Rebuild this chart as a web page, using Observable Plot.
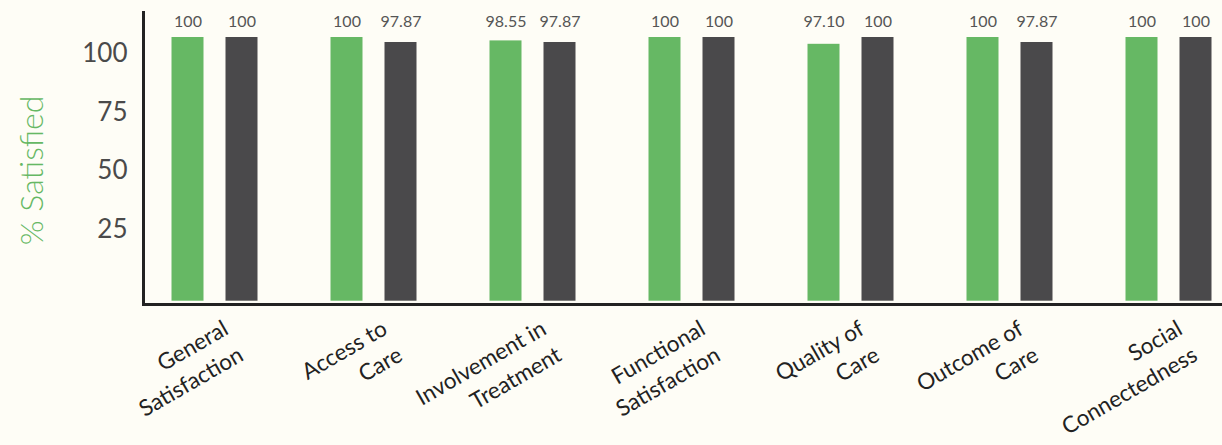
<!DOCTYPE html>
<html>
<head>
<meta charset="utf-8">
<script src="https://cdn.jsdelivr.net/npm/d3@7"></script>
<script src="https://cdn.jsdelivr.net/npm/@observablehq/plot@0.6"></script>
<style>
  html, body { margin: 0; padding: 0; background: #fefdf6; }
  #chart svg { display: block; background: #fefdf6; }
</style>
</head>
<body>
<div id="chart"></div>
<script>
const categories = ["General Satisfaction", "Access to Care", "Involvement in Treatment",
  "Functional Satisfaction", "Quality of Care", "Outcome of Care", "Social Connectedness"];
const tickLabels = ["General\nSatisfaction", "Access to\nCare", "Involvement in\nTreatment",
  "Functional\nSatisfaction", "Quality of\nCare", "Outcome of\nCare", "Social\nConnectedness"];
const greenValues = [100, 100, 98.55, 100, 97.10, 100, 100];
const darkValues  = [100, 97.87, 97.87, 100, 100, 97.87, 100];
const yTicks = [25, 50, 75, 100];
const yTitle = "% Satisfied";

const green = "#66b864", dark = "#4a494b";
const fmt = v => v === 100 ? "100" : v.toFixed(2);

const greenRows = categories.map((c, i) => ({category: c, value: greenValues[i]}));
const darkRows  = categories.map((c, i) => ({category: c, value: darkValues[i]}));
const labelRows = categories.map((c, i) => ({category: c, label: tickLabels[i]}));

const font = "Lato, 'Open Sans', sans-serif";

const chart = Plot.plot({
  width: 1222,
  height: 445,
  marginLeft: 143,
  marginRight: 0,
  marginTop: 12,
  marginBottom: 141,
  style: {background: "#fefdf6", fontFamily: font},
  x: {type: "band", domain: categories, range: [134.5, 1247.5], padding: 0, axis: null},
  y: {domain: [0, 100], range: [287.7, 53], axis: null},
  marks: [
    Plot.barY(greenRows, {x: "category", y: "value", fill: green,
      insetLeft: 36.5, insetRight: 90.5, insetTop: -16, insetBottom: -13}),
    Plot.barY(darkRows, {x: "category", y: "value", fill: dark,
      insetLeft: 90.5, insetRight: 36.5, insetTop: -16, insetBottom: -13}),
    Plot.text(greenRows, {x: "category", text: d => fmt(d.value), frameAnchor: "top",
      dy: 9.5, dx: -27, fontSize: 16, fill: "#555", lineAnchor: "middle"}),
    Plot.text(darkRows, {x: "category", text: d => fmt(d.value), frameAnchor: "top",
      dy: 9.5, dx: 27, fontSize: 16, fill: "#555", lineAnchor: "middle"}),
    Plot.axisY({ticks: yTicks, tickSize: 0, tickPadding: 16, fontSize: 26,
      fill: "#4a4a4a", label: null}),
    Plot.text([yTitle], {text: d => d, frameAnchor: "left", textAnchor: "middle",
      lineAnchor: "middle", dx: -111, dy: 12,
      rotate: -90, fill: green, fontSize: 32, fontWeight: 300}),
    Plot.text(labelRows, {x: "category", text: "label", frameAnchor: "bottom",
      dy: 10, dx: 4, rotate: -30, textAnchor: "end", lineAnchor: "top",
      lineHeight: 1.35, fontSize: 22.5, fill: "#222"}),
    Plot.frame({anchor: "left", stroke: "#222", strokeWidth: 3}),
    Plot.frame({anchor: "bottom", stroke: "#222", strokeWidth: 3})
  ]
});
document.getElementById("chart").append(chart);
</script>
</body>
</html>
